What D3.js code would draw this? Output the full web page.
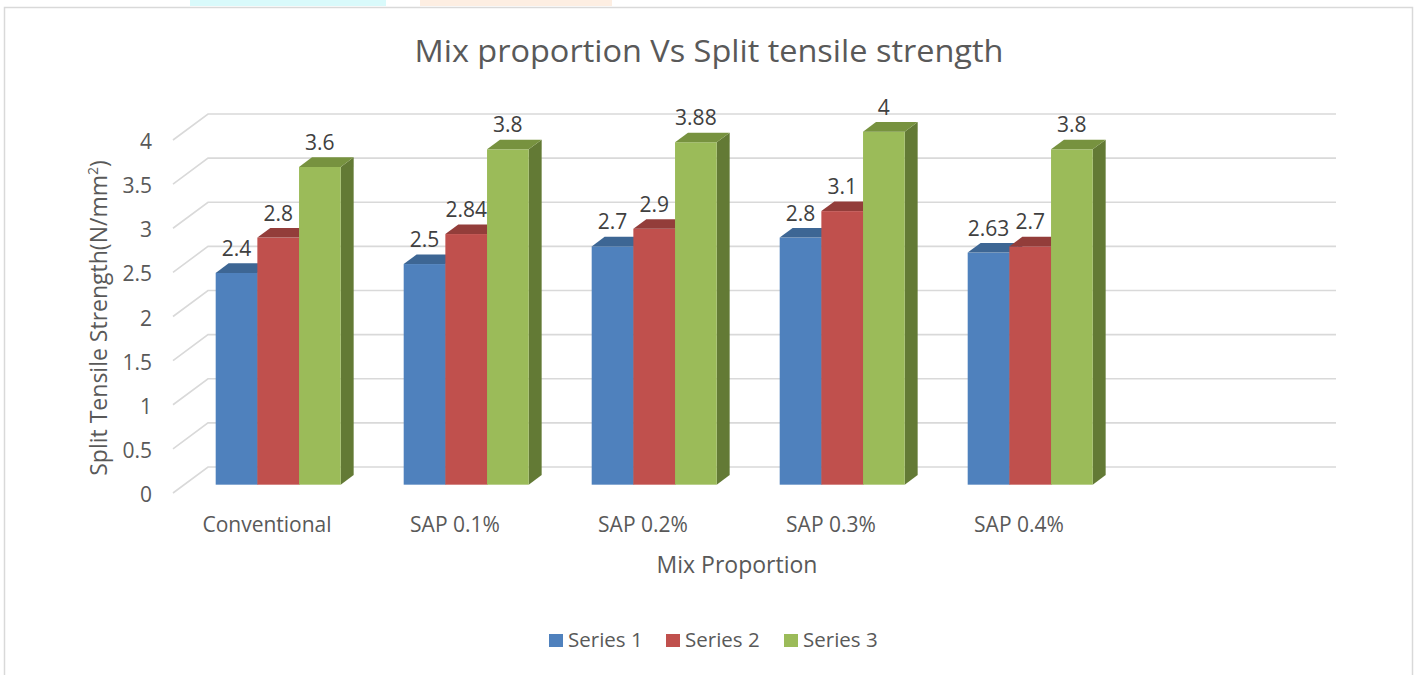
<!DOCTYPE html>
<html>
<head>
<meta charset="utf-8">
<script src="https://cdn.jsdelivr.net/npm/d3@7"></script>
<style>
  body { margin: 0; background: #fff; }
  svg { display: block; font-family: "Open Sans", sans-serif; }
</style>
</head>
<body>
<div id="chart"></div>
<script>
const width = 1419;
const height = 675;

const categories = ["Conventional", "SAP 0.1%", "SAP 0.2%", "SAP 0.3%", "SAP 0.4%"];
const seriesNames = ["Series 1", "Series 2", "Series 3"];
const series1 = [2.4, 2.5, 2.7, 2.8, 2.63];
const series2 = [2.8, 2.84, 2.9, 3.1, 2.7];
const series3 = [3.6, 3.8, 3.88, 4, 3.8];
const yTicks = [0, 0.5, 1, 1.5, 2, 2.5, 3, 3.5, 4];

const seriesValues = [series1, series2, series3];
const frontColors = ["#4F81BD", "#C0504D", "#9BBB59"];
const topColors = ["#3D6694", "#933D3A", "#77923F"];
const sideColors = ["#33557C", "#7A3230", "#637A35"];

// plot box (front plane) and depth of the 3d box
const plotLeft = 173;
const plotRight = 1301;
const step = (plotRight - plotLeft) / 6;
const depthX = 35;
const depthY = -26;
const barStart = 0.32;
const barDepth = 0.37;

const svg = d3.select("#chart")
  .append("svg")
  .attr("width", width)
  .attr("height", height);

svg.append("rect")
  .attr("width", width)
  .attr("height", height)
  .attr("fill", "#fff");

// faint strips from the page above the chart
svg.append("rect").attr("x", 190).attr("y", 0).attr("width", 196).attr("height", 6).attr("fill", "#D9FAFB");
svg.append("rect").attr("x", 420).attr("y", 0).attr("width", 192).attr("height", 6).attr("fill", "#FDEEE2");

svg.append("rect")
  .attr("x", 4.5)
  .attr("y", 7.5)
  .attr("width", 1408)
  .attr("height", 680)
  .attr("fill", "none")
  .attr("stroke", "#D9D9D9")
  .attr("stroke-width", 1.5);

const x = d3.scaleBand()
  .domain(categories)
  .range([plotLeft, plotLeft + step * categories.length])
  .paddingInner(0.335)
  .paddingOuter(0.1675);

const xSub = d3.scaleBand()
  .domain(seriesNames)
  .range([0, x.bandwidth()]);

const y = d3.scaleLinear()
  .domain([0, 4])
  .range([493, 140]);

// gridlines: left wall diagonal + back wall line
const grid = svg.append("g")
  .attr("stroke", "#D9D9D9")
  .attr("stroke-width", 1.6)
  .attr("fill", "none");

grid.selectAll("path")
  .data(yTicks)
  .join("path")
  .attr("d", d => `M${plotLeft},${y(d)}L${plotLeft + depthX},${y(d) + depthY}L${plotRight + depthX},${y(d) + depthY}`);

// y tick labels
svg.append("g")
  .selectAll("text")
  .data(yTicks)
  .join("text")
  .attr("x", 152)
  .attr("y", d => y(d) + 9)
  .attr("text-anchor", "end")
  .attr("font-size", 21)
  .attr("fill", "#595959")
  .text(d => d);

// bars
const bars = [];
categories.forEach((c, i) => {
  seriesNames.forEach((s, k) => {
    bars.push({ category: c, series: k, value: seriesValues[k][i] });
  });
});

const ox = barStart * depthX;
const oy = barStart * depthY;
const bdx = barDepth * depthX;
const bdy = barDepth * depthY;
const w = xSub.bandwidth();

const barG = svg.append("g")
  .selectAll("g")
  .data(bars)
  .join("g");

barG.each(function(d) {
  const g = d3.select(this);
  const fx = x(d.category) + xSub(seriesNames[d.series]) + ox;
  const fy = y(d.value) + oy;
  const fb = y(0) + oy;
  g.append("path")
    .attr("d", `M${fx + w},${fy}L${fx + w + bdx},${fy + bdy}L${fx + w + bdx},${fb + bdy}L${fx + w},${fb}Z`)
    .attr("fill", sideColors[d.series]);
  g.append("rect")
    .attr("x", fx)
    .attr("y", fy)
    .attr("width", w)
    .attr("height", fb - fy)
    .attr("fill", frontColors[d.series]);
  g.append("path")
    .attr("d", `M${fx},${fy}L${fx + bdx},${fy + bdy}L${fx + w + bdx},${fy + bdy}L${fx + w},${fy}Z`)
    .attr("fill", topColors[d.series]);
});

// data labels
svg.append("g")
  .selectAll("text")
  .data(bars)
  .join("text")
  .attr("x", d => x(d.category) + xSub(seriesNames[d.series]) + ox + w / 2)
  .attr("y", d => y(d.value) + oy - 17)
  .attr("text-anchor", "middle")
  .attr("font-size", 21)
  .attr("fill", "#404040")
  .text(d => d.value);

// category labels
svg.append("g")
  .selectAll("text")
  .data(categories)
  .join("text")
  .attr("x", d => x(d) + x.bandwidth() / 2)
  .attr("y", 532)
  .attr("text-anchor", "middle")
  .attr("font-size", 21)
  .attr("fill", "#595959")
  .text(d => d);

// titles
svg.append("text")
  .attr("x", 709)
  .attr("y", 62)
  .attr("text-anchor", "middle")
  .attr("font-size", 31)
  .attr("fill", "#595959")
  .attr("textLength", 589)
  .attr("lengthAdjust", "spacingAndGlyphs")
  .text("Mix proportion Vs Split tensile strength");

svg.append("text")
  .attr("x", (plotLeft + plotRight) / 2)
  .attr("y", 573)
  .attr("text-anchor", "middle")
  .attr("font-size", 23)
  .attr("fill", "#595959")
  .text("Mix Proportion");

const yTitle = svg.append("text")
  .attr("transform", "translate(107,318) rotate(-90)")
  .attr("text-anchor", "middle")
  .attr("font-size", 23)
  .attr("fill", "#595959");
yTitle.append("tspan").text("Split Tensile Strength(N/mm");
yTitle.append("tspan").attr("baseline-shift", "super").attr("font-size", 14).text("2");
yTitle.append("tspan").text(")");

// legend
const legendX = [549, 666, 784];
const legend = svg.append("g")
  .selectAll("g")
  .data(seriesNames)
  .join("g")
  .attr("transform", (d, i) => `translate(${legendX[i]},634)`);

legend.append("rect")
  .attr("width", 14)
  .attr("height", 13)
  .attr("fill", (d, i) => frontColors[i]);

legend.append("text")
  .attr("x", 19)
  .attr("y", 13)
  .attr("font-size", 20.5)
  .attr("fill", "#595959")
  .text(d => d);
</script>
</body>
</html>
